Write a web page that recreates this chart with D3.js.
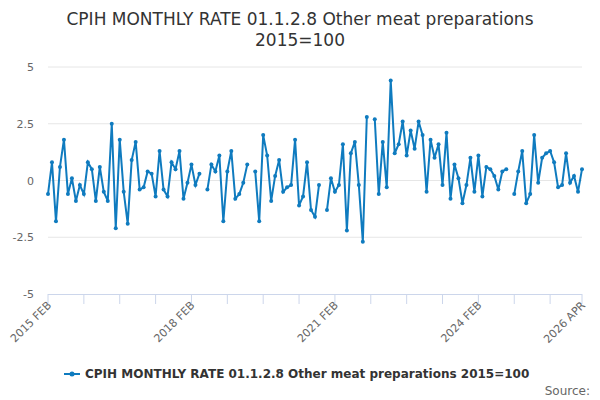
<!DOCTYPE html>
<html><head><meta charset="utf-8">
<script src="https://cdn.jsdelivr.net/npm/d3@7"></script>
<style>body{margin:0;background:#fff}text{font-family:"DejaVu Sans",sans-serif}</style>
</head><body><svg id="c" width="600" height="400"></svg>
<script>
const seriesName = "CPIH MONTHLY RATE 01.1.2.8 Other meat preparations 2015=100";
const startYear = 2015, startMonth = 1; // Feb (0-based)
const values = [
 -0.6,0.8,-1.8,0.6,1.8,-0.6,0.1,-0.9,-0.2,-0.6,0.8,
 0.5,-0.9,0.6,-0.5,-0.9,2.5,-2.1,1.8,-0.5,-1.9,0.9,1.7,
 -0.4,-0.3,0.4,0.3,-0.7,1.3,-0.4,-0.7,0.8,0.5,1.3,-0.8,
 -0.1,0.7,-0.2,0.3,null,-0.4,0.7,0.4,1.1,-1.8,0.4,1.3,
 -0.8,-0.6,-0.1,0.7,null,0.4,-1.8,2.0,1.1,-0.9,0.2,0.9,
 -0.5,-0.3,-0.2,1.8,-1.1,-0.7,0.8,-1.3,-1.6,-0.2,null,-1.3,
 0.1,-0.5,-0.2,1.6,-2.2,1.2,1.7,-0.2,-2.7,2.8,null,2.7,
 -0.6,1.7,-0.3,4.4,1.2,1.6,2.6,1.1,2.2,1.4,2.6,2.0,
 -0.5,1.8,1.0,1.6,-0.2,2.1,-0.8,0.7,0.1,-1.0,-0.2,1.0,
 -0.5,1.1,-0.7,0.6,0.5,0.2,-0.4,0.4,0.5,null,-0.6,0.4,
 1.3,-1.0,-0.6,2.0,-0.1,1.0,1.2,1.3,0.8,-0.3,-0.2,1.2,
 -0.1,0.2,-0.5,0.5
];
const yTicks = [-5,-2.5,0,2.5,5];
const months = ["JAN","FEB","MAR","APR","MAY","JUN","JUL","AUG","SEP","OCT","NOV","DEC"];
const labelIdx = [0,36,72,108,values.length-1];
const lab = i => { const m = startMonth + i; return (startYear + Math.floor(m/12)) + " " + months[m%12]; };

const svg = d3.select("#c");
const x = d3.scaleLinear().domain([0, values.length-1]).range([48, 582]);
const y = d3.scaleLinear().domain([-5,5]).range([294, 67]);
const col = "#0f7bbf";

svg.append("text").attr("x",300).attr("y",25).attr("text-anchor","middle").attr("font-size",17).attr("fill","#333").text("CPIH MONTHLY RATE 01.1.2.8 Other meat preparations");
svg.append("text").attr("x",300).attr("y",46).attr("text-anchor","middle").attr("font-size",17).attr("fill","#333").text("2015=100");

svg.append("g").selectAll("line").data(yTicks.filter(d=>d!==-5)).join("line")
 .attr("x1",48).attr("x2",582).attr("y1",d=>y(d)).attr("y2",d=>y(d)).attr("stroke","#e6e6e6");
svg.append("g").selectAll("text").data(yTicks).join("text")
 .attr("x",34).attr("y",d=>y(d)+4).attr("text-anchor","end").attr("font-size",11).attr("fill","#666").text(d=>d);

const tickIdx = d3.range(0, values.length, 9).concat([values.length-1]);
const ax = svg.append("g");
ax.append("line").attr("x1",48).attr("x2",582).attr("y1",294.5).attr("y2",294.5).attr("stroke","#ccd6eb");
ax.selectAll("line.t").data(tickIdx).join("line").attr("class","t")
 .attr("x1",d=>x(d)).attr("x2",d=>x(d)).attr("y1",294).attr("y2",304).attr("stroke","#ccd6eb");
ax.selectAll("text").data(labelIdx).join("text")
 .attr("transform",d=>`translate(${x(d)+4},${306}) rotate(-45)`).attr("text-anchor","end")
 .attr("font-size",11).attr("fill","#666").text(d=>lab(d));

const line = d3.line().defined(d=>d!==null).x((d,i)=>x(i)).y(d=>y(d));
svg.append("path").datum(values).attr("d",line).attr("fill","none").attr("stroke",col).attr("stroke-width",2);
svg.append("g").selectAll("circle").data(values.map((v,i)=>[i,v]).filter(d=>d[1]!==null)).join("circle")
 .attr("cx",d=>x(d[0])).attr("cy",d=>y(d[1])).attr("r",2).attr("fill",col);

const lg = svg.append("g");
lg.append("line").attr("x1",64).attr("x2",80).attr("y1",374).attr("y2",374).attr("stroke",col).attr("stroke-width",2);
lg.append("circle").attr("cx",72).attr("cy",374).attr("r",2.5).attr("fill",col);
lg.append("text").attr("x",85).attr("y",378).attr("font-size",12).attr("font-weight","bold").attr("fill","#333").text(seriesName);
svg.append("text").attr("x",590).attr("y",395).attr("text-anchor","end").attr("font-size",12).attr("fill","#666").text("Source:");
</script></body></html>
